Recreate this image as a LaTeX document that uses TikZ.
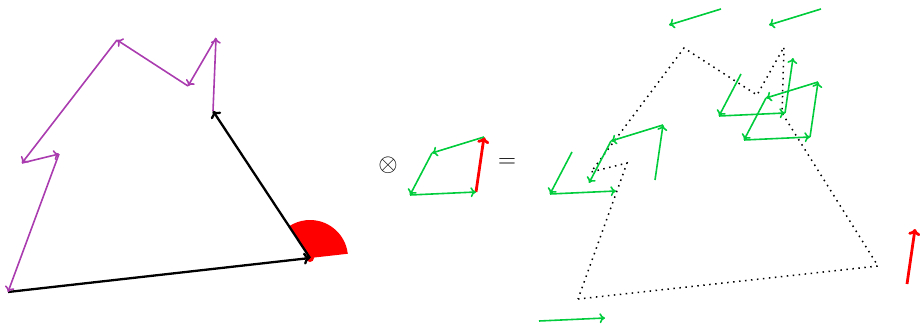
\documentclass[tikz,border=0pt]{standalone}
\usepackage{amsmath,amssymb}
\usepackage{tikz}
\usetikzlibrary{arrows.meta}

\definecolor{pathpurple}{RGB}{170,60,175}
\definecolor{edgegreen}{RGB}{0,204,60}

\begin{document}
\begin{tikzpicture}[x=1pt,y=1pt,
  edge/.style={-{To[length=5.5pt,width=10pt]},line width=1.6pt},
  purp/.style={edge,draw=pathpurple},
  grn/.style={edge,draw=edgegreen},
  blk/.style={-{To[length=6.5pt,width=12pt]},line width=2.3pt},
  redarr/.style={-{To[length=6.5pt,width=12pt]},line width=2.8pt,draw=red},
  dots/.style={line width=1.5pt,dash pattern=on 1.5pt off 4.5pt},
  op/.style={font={\fontsize{24}{28}\selectfont},inner sep=0pt}]
\useasboundingbox (0,0) rectangle (920,325);
% polygon on the left
\coordinate (p0) at (8,33);
\coordinate (org) at (310,67);
\coordinate (p1) at (213,214);
\coordinate (p2) at (216,287);
\coordinate (p3) at (188,239);
\coordinate (p4) at (117,285);
\coordinate (p5) at (22,162);
\coordinate (p6) at (59,171);
\fill[red] (org) -- ++(6.4:38) arc[start angle=6.4,end angle=123.4,radius=38] -- cycle;
\fill[red] (org) circle[radius=4];
\draw[blk] (p0) -- (org);
\draw[blk] (org) -- (p1);
\draw[purp] (p1) -- (p2);
\draw[purp] (p2) -- (p3);
\draw[purp] (p3) -- (p4);
\draw[purp] (p4) -- (p5);
\draw[purp] (p5) -- (p6);
\draw[purp] (p6) -- (p0);
% operator and small shape
\node[op] (times) at (388,160) {$\otimes$};
\coordinate (sa) at (476,133);
\coordinate (sb) at (484,188);
\coordinate (sc) at (432,172);
\coordinate (sd) at (410,130);
\draw[redarr] (sa) -- (sb);
\draw[grn] (sb) -- (sc);
\draw[grn] (sc) -- (sd);
\draw[grn] (sd) -- (sa);
\node[op] (equals) at (507,162) {$=$};
% dotted copy on the right
\coordinate (r0) at (578,26);
\coordinate (r1) at (878,59);
\coordinate (r2) at (782,212);
\coordinate (r3) at (784,278);
\coordinate (r4) at (757,230);
\coordinate (r5) at (684,277);
\coordinate (r6) at (591,153);
\coordinate (r7) at (627,162);
\draw[dots] (r0) -- (r1) -- (r2) -- (r3) -- (r4) -- (r5) -- (r6) -- (r7) -- cycle;
% edges placed around it
\coordinate (ta1) at (721,316);
\coordinate (tc1) at (669,300);
\coordinate (ta2) at (821,316);
\coordinate (tc2) at (769,300);
\draw[grn] (ta1) -- (tc1);
\draw[grn] (ta2) -- (tc2);
\coordinate (bd) at (539,4);
\coordinate (ba) at (605,7);
\draw[grn] (bd) -- (ba);
\coordinate (la) at (616,134);
\coordinate (lc) at (572,173);
\coordinate (ld) at (550,131);
\draw[grn] (lc) -- (ld);
\draw[grn] (ld) -- (la);
\coordinate (ma) at (655,145);
\coordinate (mb) at (663,200);
\coordinate (mc) at (611,184);
\coordinate (md) at (589,142);
\draw[grn] (ma) -- (mb);
\draw[grn] (mb) -- (mc);
\draw[grn] (mc) -- (md);
\coordinate (ua) at (785,212);
\coordinate (ub) at (793,267);
\coordinate (uc) at (741,251);
\coordinate (ud) at (719,209);
\draw[grn] (uc) -- (ud);
\draw[grn] (ud) -- (ua);
\draw[grn] (ua) -- (ub);
\coordinate (va) at (810,188);
\coordinate (vb) at (818,243);
\coordinate (vc) at (766,227);
\coordinate (vd) at (744,185);
\draw[grn] (va) -- (vb);
\draw[grn] (vb) -- (vc);
\draw[grn] (vc) -- (vd);
\draw[grn] (vd) -- (va);
\coordinate (ka) at (907,41);
\coordinate (kb) at (915,96);
\draw[redarr] (ka) -- (kb);
\end{tikzpicture}
\end{document}
